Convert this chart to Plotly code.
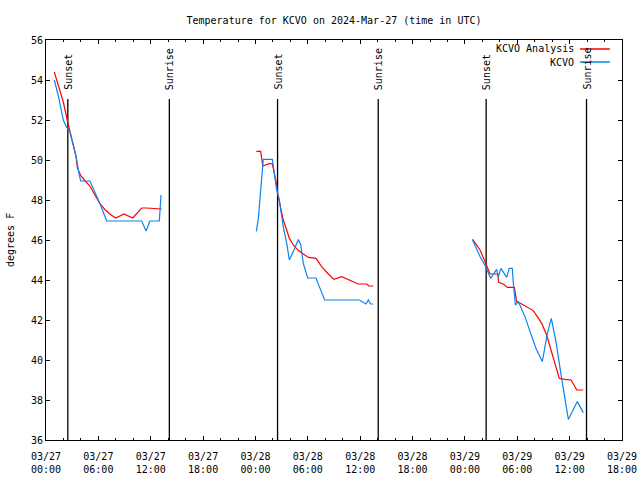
import plotly.graph_objects as go

# ---------------- data ----------------
analysis_times = [
    "2024-03-27 00:57", "2024-03-27 01:36", "2024-03-27 01:59", "2024-03-27 02:29", "2024-03-27 03:00",
    "2024-03-27 03:26", "2024-03-27 03:36", "2024-03-27 04:00", "2024-03-27 04:30", "2024-03-27 05:02",
    "2024-03-27 05:36", "2024-03-27 06:12", "2024-03-27 06:48", "2024-03-27 07:18", "2024-03-27 08:00",
    "2024-03-27 08:56", "2024-03-27 09:56", "2024-03-27 10:30", "2024-03-27 10:58", "2024-03-27 11:30",
    "2024-03-27 13:15", None,
    "2024-03-28 00:06", "2024-03-28 00:36", "2024-03-28 00:50", "2024-03-28 01:17", "2024-03-28 01:40",
    "2024-03-28 01:56", "2024-03-28 02:22", "2024-03-28 02:33", "2024-03-28 02:49", "2024-03-28 03:11",
    "2024-03-28 03:35", "2024-03-28 03:53", "2024-03-28 04:20", "2024-03-28 04:55", "2024-03-28 05:29",
    "2024-03-28 06:04", "2024-03-28 06:56", "2024-03-28 07:35", "2024-03-28 08:21", "2024-03-28 09:00",
    "2024-03-28 09:53", "2024-03-28 10:50", "2024-03-28 11:47", "2024-03-28 12:44", "2024-03-28 13:00",
    "2024-03-28 13:30", None,
    "2024-03-29 00:53", "2024-03-29 01:44", "2024-03-29 02:18", "2024-03-29 02:53", "2024-03-29 03:46",
    "2024-03-29 03:52", "2024-03-29 04:24", "2024-03-29 04:52", "2024-03-29 05:40", "2024-03-29 05:56",
    "2024-03-29 06:31", "2024-03-29 07:09", "2024-03-29 07:50", "2024-03-29 08:18", "2024-03-29 08:48",
    "2024-03-29 09:22", "2024-03-29 09:57", "2024-03-29 10:26", "2024-03-29 10:49", "2024-03-29 11:28",
    "2024-03-29 12:10", "2024-03-29 12:49", "2024-03-29 13:34",
]
analysis_temps = [
    54.4, 53.4, 52.9, 51.9, 50.9, 50.2, 49.6, 49.2, 48.95, 48.7,
    48.25, 47.8, 47.5, 47.3, 47.1, 47.3, 47.1, 47.35, 47.6, 47.6,
    47.55, None,
    50.43, 50.43, 49.7, 49.77, 49.83, 49.8, 48.92, 48.33, 47.75, 47.0,
    46.5, 46.08, 45.75, 45.47, 45.3, 45.13, 45.08, 44.67, 44.3, 44.03,
    44.17, 43.97, 43.8, 43.8, 43.7, 43.7, None,
    46.03, 45.5, 44.92, 44.3, 44.3, 43.88, 43.8, 43.63, 43.63, 42.92,
    42.8, 42.63, 42.47, 42.17, 41.83, 41.25, 40.42, 39.67, 39.08, 39.03,
    39.0, 38.5, 38.5,
]

obs_times = [
    "2024-03-27 00:57", "2024-03-27 01:25", "2024-03-27 01:59", "2024-03-27 02:17", "2024-03-27 02:45",
    "2024-03-27 03:08", "2024-03-27 03:26", "2024-03-27 03:49", "2024-03-27 03:58", "2024-03-27 05:02",
    "2024-03-27 05:36", "2024-03-27 06:12", "2024-03-27 06:57", "2024-03-27 10:58", "2024-03-27 11:28",
    "2024-03-27 11:54", "2024-03-27 12:59", "2024-03-27 13:11", None,
    "2024-03-28 00:06", "2024-03-28 00:20", "2024-03-28 00:36", "2024-03-28 00:50", "2024-03-28 00:54",
    "2024-03-28 01:56", "2024-03-28 02:10", "2024-03-28 02:26", "2024-03-28 02:42", "2024-03-28 02:53",
    "2024-03-28 03:11", "2024-03-28 03:35", "2024-03-28 03:53", "2024-03-28 04:25", "2024-03-28 04:55",
    "2024-03-28 05:11", "2024-03-28 05:29", "2024-03-28 05:59", "2024-03-28 06:56", "2024-03-28 07:24",
    "2024-03-28 07:56", "2024-03-28 11:54", "2024-03-28 12:40", "2024-03-28 12:56", "2024-03-28 13:12",
    "2024-03-28 13:30", None,
    "2024-03-29 00:51", "2024-03-29 01:44", "2024-03-29 02:23", "2024-03-29 02:57", "2024-03-29 03:38",
    "2024-03-29 03:50", "2024-03-29 04:08", "2024-03-29 04:47", "2024-03-29 05:05", "2024-03-29 05:26",
    "2024-03-29 05:33", "2024-03-29 05:47", "2024-03-29 06:07", "2024-03-29 06:53", "2024-03-29 07:28",
    "2024-03-29 08:09", "2024-03-29 08:52", "2024-03-29 09:27", "2024-03-29 09:54", "2024-03-29 10:26",
    "2024-03-29 11:05", "2024-03-29 11:28", "2024-03-29 11:51", "2024-03-29 12:53", "2024-03-29 13:34",
]
obs_temps = [
    54.0, 53.2, 52.0, 51.7, 51.4, 50.75, 50.2, 49.25, 48.95, 48.95,
    48.4, 47.8, 46.95, 46.95, 46.45, 46.95, 46.95, 48.25, None,
    46.43, 47.08, 48.5, 49.75, 50.03, 50.03, 49.33, 48.5, 48.08, 47.5,
    46.67, 45.83, 45.0, 45.5, 46.03, 45.75, 44.83, 44.1, 44.1, 43.58,
    43.0, 43.0, 42.8, 43.0, 42.8, 42.8, None,
    46.03, 45.17, 44.67, 44.08, 44.53, 44.17, 44.58, 44.13, 44.58, 44.58,
    43.83, 42.75, 42.92, 42.17, 41.42, 40.58, 39.92, 41.33, 42.08, 40.92,
    39.08, 38.0, 37.03, 37.92, 37.37,
]

sun_times = ["2024-03-27 02:30", "2024-03-27 14:08", "2024-03-28 02:32",
             "2024-03-28 14:04", "2024-03-29 02:26", "2024-03-29 13:56"]
sun_labels = ["Sunset", "Sunrise", "Sunset", "Sunrise", "Sunset", "Sunrise"]
sun_line_top = 53.05
sun_label_base = 53.4

series_names = ["KCVO Analysis", "KCVO"]
series_colors = ["#ff0000", "#0a84f0"]

title_text = "Temperature for KCVO on 2024-Mar-27 (time in UTC)"
y_label = "degrees F"
x_range = ["2024-03-27 00:00", "2024-03-29 18:00"]
y_range = [36, 56]

FONT = "DejaVu Sans Mono"

# ---------------- figure ----------------
fig = go.Figure()

# sunrise / sunset vertical lines
for t in sun_times:
    fig.add_trace(go.Scatter(x=[t, t], y=[y_range[0], sun_line_top], mode="lines",
                             line=dict(color="black", width=1.3), hoverinfo="skip",
                             showlegend=False))
for t, lab in zip(sun_times, sun_labels):
    fig.add_annotation(x=t, y=sun_label_base, text=lab, textangle=-90, showarrow=False,
                       xanchor="center", yanchor="bottom", xref="x", yref="y",
                       font=dict(family=FONT, size=10, color="black"))

fig.add_trace(go.Scatter(x=analysis_times, y=analysis_temps, mode="lines",
                         line=dict(color=series_colors[0], width=1.2),
                         connectgaps=False, name=series_names[0], showlegend=False))
fig.add_trace(go.Scatter(x=obs_times, y=obs_temps, mode="lines",
                         line=dict(color=series_colors[1], width=1.2),
                         connectgaps=False, name=series_names[1], showlegend=False))

# gnuplot-style key (text right, sample line on its right)
key_rows_y = [0.9775, 0.945]
for name, color, ky in zip(series_names, series_colors, key_rows_y):
    fig.add_annotation(x=0.92, y=ky, xref="paper", yref="paper", text=name,
                       showarrow=False, xanchor="right", yanchor="middle",
                       font=dict(family=FONT, size=10, color="black"))
    fig.add_shape(type="line", xref="paper", yref="paper", x0=0.927, x1=0.979,
                  y0=ky, y1=ky, line=dict(color=color, width=1.5))

fig.add_annotation(x=-0.0625, y=0.5, xref="paper", yref="paper", text=y_label,
                   textangle=-90, showarrow=False, xanchor="center", yanchor="middle",
                   font=dict(family=FONT, size=10, color="black"))

fig.update_layout(
    width=640, height=480,
    margin=dict(l=46, r=18, t=40, b=40, autoexpand=False),
    paper_bgcolor="white", plot_bgcolor="white",
    font=dict(family=FONT, size=10, color="black"),
    title=dict(text=title_text, x=334 / 640, xanchor="center", y=1 - 20 / 480,
               yanchor="middle", yref="container",
               font=dict(family=FONT, size=10, color="black")),
    showlegend=False,
)
fig.update_xaxes(
    type="date", range=x_range, dtick=6 * 3600 * 1000, tick0="2024-03-27 00:00",
    tickformat="%m/%d<br>%H:%M", ticks="inside", ticklen=4, tickcolor="black",
    showline=True, linecolor="black", linewidth=1, mirror="ticks",
    showgrid=False, zeroline=False, automargin=False, ticklabelstandoff=7,
    minor=dict(dtick=2 * 3600 * 1000, ticks="inside", ticklen=2, tickcolor="black", showgrid=False),
    tickfont=dict(family=FONT, size=10, color="black"),
)
fig.update_yaxes(
    range=y_range, dtick=2, tick0=36, ticks="inside", ticklen=4, tickcolor="black",
    showline=True, linecolor="black", linewidth=1, mirror="ticks",
    showgrid=False, zeroline=False, automargin=False,
    tickfont=dict(family=FONT, size=10, color="black"),
)

fig.write_html("out.html", config={"displayModeBar": False},
               post_script="document.body.style.margin='0px';")
